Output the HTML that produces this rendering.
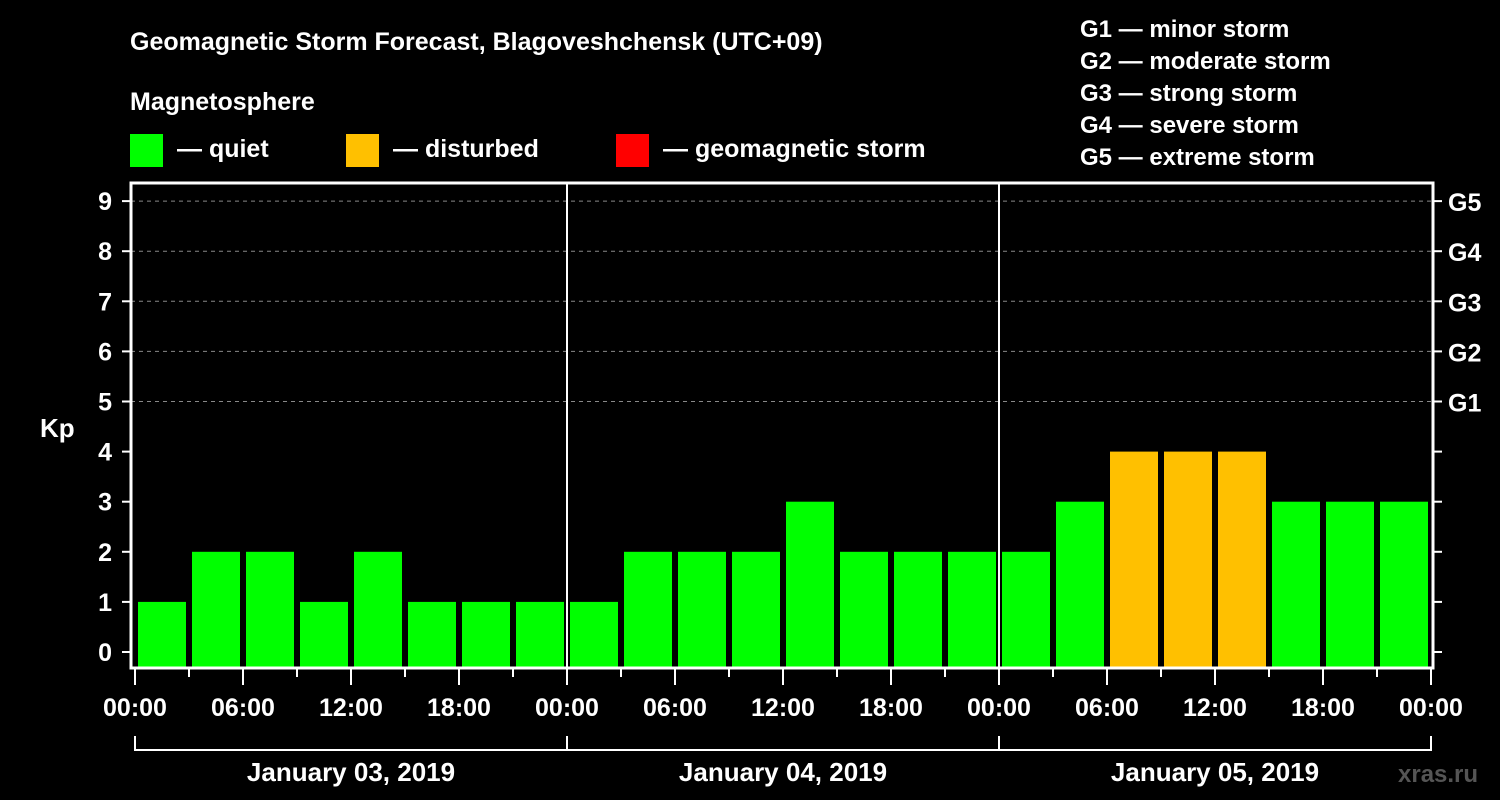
<!DOCTYPE html>
<html><head><meta charset="utf-8"><style>
body{margin:0;background:#000;}
svg{display:block;font-family:"Liberation Sans",Arial,sans-serif;font-weight:bold;}
</style></head><body>
<svg id="c" width="1500" height="800" viewBox="0 0 1500 800">
<rect width="1500" height="800" fill="#000"/>
<text x="130" y="50" fill="#fff" font-size="25">Geomagnetic Storm Forecast, Blagoveshchensk (UTC+09)</text>
<text x="130" y="110" fill="#fff" font-size="25">Magnetosphere</text>
<g><rect x="130" y="134" width="33" height="33" fill="#00ff00"/><text x="177" y="157" fill="#fff" font-size="25">— quiet</text></g>
<g><rect x="346" y="134" width="33" height="33" fill="#ffc000"/><text x="393" y="157" fill="#fff" font-size="25">— disturbed</text></g>
<g><rect x="616" y="134" width="33" height="33" fill="#ff0000"/><text x="663" y="157" fill="#fff" font-size="25">— geomagnetic storm</text></g>
<g fill="#fff" font-size="24">
<text x="1080" y="37">G1 — minor storm</text>
<text x="1080" y="69">G2 — moderate storm</text>
<text x="1080" y="101">G3 — strong storm</text>
<text x="1080" y="133">G4 — severe storm</text>
<text x="1080" y="165">G5 — extreme storm</text>
</g>
<text x="40" y="437" fill="#fff" font-size="26">Kp</text>
<text x="1398" y="782" fill="#555" font-size="24">xras.ru</text>
<g id="grid"></g><g id="bars"></g><g id="axes"></g>
</svg>
<script>
const kpValues=[1,2,2,1,2,1,1,1, 1,2,2,2,3,2,2,2, 2,3,4,4,4,3,3,3];
const days=["January 03, 2019","January 04, 2019","January 05, 2019"];
const hourLabels=["00:00","06:00","12:00","18:00"];
const gLabels=["G1","G2","G3","G4","G5"];
const NS="http://www.w3.org/2000/svg";
const x0=135,slot=54,yZero=652,unit=50.1,plotL=131,plotR=1433,plotT=183,plotB=668;
const y=v=>yZero-v*unit, xs=i=>x0+i*slot;
function mk(p,t,a){const e=document.createElementNS(NS,t);for(const k in a)e.setAttribute(k,a[k]);p.appendChild(e);return e;}
const grid=document.getElementById('grid'),bars=document.getElementById('bars'),axes=document.getElementById('axes');
for(let v=5;v<=9;v++){const l=mk(grid,'line',{x1:plotL,x2:plotR,y1:y(v),y2:y(v),stroke:'#888','stroke-dasharray':'4,4','stroke-width':1});

}
kpValues.forEach((v,i)=>{const c=v>=5?'#ff0000':v>=4?'#ffc000':'#00ff00';
const r=mk(bars,'rect',{x:xs(i)+3,y:y(v),width:48,height:plotB-y(v),fill:c});

});
for(let d=1;d<days.length;d++){const l=mk(axes,'line',{x1:xs(d*8),x2:xs(d*8),y1:plotT,y2:plotB,stroke:'#fff','stroke-width':2});

}
const fr=mk(axes,'rect',{x:plotL,y:plotT,width:plotR-plotL,height:plotB-plotT,fill:'none',stroke:'#fff','stroke-width':3});


for(let v=0;v<=9;v++){
mk(axes,'line',{x1:122,x2:plotL,y1:y(v),y2:y(v),stroke:'#fff','stroke-width':2});
mk(axes,'line',{x1:plotR,x2:1442,y1:y(v),y2:y(v),stroke:'#fff','stroke-width':2});
const t=mk(axes,'text',{x:112,y:y(v)+9,fill:'#fff','font-size':25,'text-anchor':'end'});t.textContent=v;


if(v>=5){const g=mk(axes,'text',{x:1448,y:y(v)+10,fill:'#fff','font-size':25});g.textContent=gLabels[v-5];

}}
for(let i=0;i<=kpValues.length;i++){const major=i%2===0;
mk(axes,'line',{x1:xs(i),x2:xs(i),y1:plotB,y2:major?685:677,stroke:'#fff','stroke-width':2});
if(major){const t=mk(axes,'text',{x:xs(i),y:716,fill:'#fff','font-size':25,'text-anchor':'middle'});t.textContent=hourLabels[(i/2)%4];

}}
mk(axes,'path',{d:`M${xs(0)} 736V750H${xs(24)}V736`,fill:'none',stroke:'#fff','stroke-width':2});
days.forEach((d,k)=>{if(k>0)mk(axes,'line',{x1:xs(k*8),x2:xs(k*8),y1:736,y2:750,stroke:'#fff','stroke-width':2});
const t=mk(axes,'text',{x:xs(k*8+4),y:781,fill:'#fff','font-size':26,'text-anchor':'middle'});t.textContent=d;

});
</script>
</body></html>
